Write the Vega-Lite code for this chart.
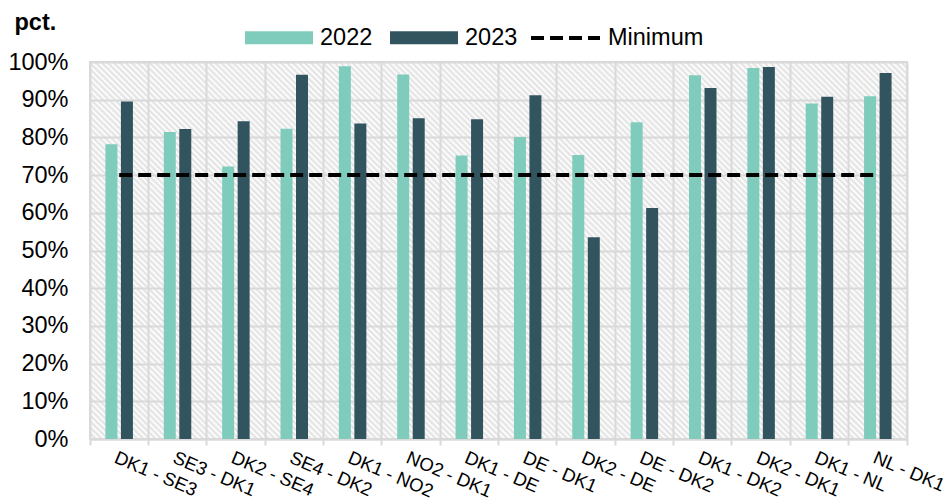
{
  "$schema": "https://vega.github.io/schema/vega-lite/v6.json",
  "width": 817,
  "height": 377,
  "autosize": {"type": "none"},
  "padding": {"left": 90, "top": 62, "right": 44, "bottom": 60},
  "background": "white",
  "config": {
    "font": "Liberation Sans",
    "view": {
      "stroke": "#d9d9d9",
      "strokeWidth": 2,
      "fill": {
        "gradient": "linear",
        "x1": 0, "y1": 1, "x2": 1.20489, "y2": 0.44402,
        "stops": [
{"offset":0,"color":"#e0e0e0"},{"offset":0.0025,"color":"#fff"},{"offset":0.005,"color":"#e0e0e0"},{"offset":0.0075,"color":"#fff"},{"offset":0.01,"color":"#e0e0e0"},{"offset":0.0125,"color":"#fff"},{"offset":0.015,"color":"#e0e0e0"},{"offset":0.0175,"color":"#fff"},{"offset":0.02,"color":"#e0e0e0"},{"offset":0.0225,"color":"#fff"},
{"offset":0.025,"color":"#e0e0e0"},{"offset":0.0275,"color":"#fff"},{"offset":0.03,"color":"#e0e0e0"},{"offset":0.0325,"color":"#fff"},{"offset":0.035,"color":"#e0e0e0"},{"offset":0.0375,"color":"#fff"},{"offset":0.04,"color":"#e0e0e0"},{"offset":0.0425,"color":"#fff"},{"offset":0.045,"color":"#e0e0e0"},{"offset":0.0475,"color":"#fff"},
{"offset":0.05,"color":"#e0e0e0"},{"offset":0.0525,"color":"#fff"},{"offset":0.055,"color":"#e0e0e0"},{"offset":0.0575,"color":"#fff"},{"offset":0.06,"color":"#e0e0e0"},{"offset":0.0625,"color":"#fff"},{"offset":0.065,"color":"#e0e0e0"},{"offset":0.0675,"color":"#fff"},{"offset":0.07,"color":"#e0e0e0"},{"offset":0.0725,"color":"#fff"},
{"offset":0.075,"color":"#e0e0e0"},{"offset":0.0775,"color":"#fff"},{"offset":0.08,"color":"#e0e0e0"},{"offset":0.0825,"color":"#fff"},{"offset":0.085,"color":"#e0e0e0"},{"offset":0.0875,"color":"#fff"},{"offset":0.09,"color":"#e0e0e0"},{"offset":0.0925,"color":"#fff"},{"offset":0.095,"color":"#e0e0e0"},{"offset":0.0975,"color":"#fff"},
{"offset":0.1,"color":"#e0e0e0"},{"offset":0.1025,"color":"#fff"},{"offset":0.105,"color":"#e0e0e0"},{"offset":0.1075,"color":"#fff"},{"offset":0.11,"color":"#e0e0e0"},{"offset":0.1125,"color":"#fff"},{"offset":0.115,"color":"#e0e0e0"},{"offset":0.1175,"color":"#fff"},{"offset":0.12,"color":"#e0e0e0"},{"offset":0.1225,"color":"#fff"},
{"offset":0.125,"color":"#e0e0e0"},{"offset":0.1275,"color":"#fff"},{"offset":0.13,"color":"#e0e0e0"},{"offset":0.1325,"color":"#fff"},{"offset":0.135,"color":"#e0e0e0"},{"offset":0.1375,"color":"#fff"},{"offset":0.14,"color":"#e0e0e0"},{"offset":0.1425,"color":"#fff"},{"offset":0.145,"color":"#e0e0e0"},{"offset":0.1475,"color":"#fff"},
{"offset":0.15,"color":"#e0e0e0"},{"offset":0.1525,"color":"#fff"},{"offset":0.155,"color":"#e0e0e0"},{"offset":0.1575,"color":"#fff"},{"offset":0.16,"color":"#e0e0e0"},{"offset":0.1625,"color":"#fff"},{"offset":0.165,"color":"#e0e0e0"},{"offset":0.1675,"color":"#fff"},{"offset":0.17,"color":"#e0e0e0"},{"offset":0.1725,"color":"#fff"},
{"offset":0.175,"color":"#e0e0e0"},{"offset":0.1775,"color":"#fff"},{"offset":0.18,"color":"#e0e0e0"},{"offset":0.1825,"color":"#fff"},{"offset":0.185,"color":"#e0e0e0"},{"offset":0.1875,"color":"#fff"},{"offset":0.19,"color":"#e0e0e0"},{"offset":0.1925,"color":"#fff"},{"offset":0.195,"color":"#e0e0e0"},{"offset":0.1975,"color":"#fff"},
{"offset":0.2,"color":"#e0e0e0"},{"offset":0.2025,"color":"#fff"},{"offset":0.205,"color":"#e0e0e0"},{"offset":0.2075,"color":"#fff"},{"offset":0.21,"color":"#e0e0e0"},{"offset":0.2125,"color":"#fff"},{"offset":0.215,"color":"#e0e0e0"},{"offset":0.2175,"color":"#fff"},{"offset":0.22,"color":"#e0e0e0"},{"offset":0.2225,"color":"#fff"},
{"offset":0.225,"color":"#e0e0e0"},{"offset":0.2275,"color":"#fff"},{"offset":0.23,"color":"#e0e0e0"},{"offset":0.2325,"color":"#fff"},{"offset":0.235,"color":"#e0e0e0"},{"offset":0.2375,"color":"#fff"},{"offset":0.24,"color":"#e0e0e0"},{"offset":0.2425,"color":"#fff"},{"offset":0.245,"color":"#e0e0e0"},{"offset":0.2475,"color":"#fff"},
{"offset":0.25,"color":"#e0e0e0"},{"offset":0.2525,"color":"#fff"},{"offset":0.255,"color":"#e0e0e0"},{"offset":0.2575,"color":"#fff"},{"offset":0.26,"color":"#e0e0e0"},{"offset":0.2625,"color":"#fff"},{"offset":0.265,"color":"#e0e0e0"},{"offset":0.2675,"color":"#fff"},{"offset":0.27,"color":"#e0e0e0"},{"offset":0.2725,"color":"#fff"},
{"offset":0.275,"color":"#e0e0e0"},{"offset":0.2775,"color":"#fff"},{"offset":0.28,"color":"#e0e0e0"},{"offset":0.2825,"color":"#fff"},{"offset":0.285,"color":"#e0e0e0"},{"offset":0.2875,"color":"#fff"},{"offset":0.29,"color":"#e0e0e0"},{"offset":0.2925,"color":"#fff"},{"offset":0.295,"color":"#e0e0e0"},{"offset":0.2975,"color":"#fff"},
{"offset":0.3,"color":"#e0e0e0"},{"offset":0.3025,"color":"#fff"},{"offset":0.305,"color":"#e0e0e0"},{"offset":0.3075,"color":"#fff"},{"offset":0.31,"color":"#e0e0e0"},{"offset":0.3125,"color":"#fff"},{"offset":0.315,"color":"#e0e0e0"},{"offset":0.3175,"color":"#fff"},{"offset":0.32,"color":"#e0e0e0"},{"offset":0.3225,"color":"#fff"},
{"offset":0.325,"color":"#e0e0e0"},{"offset":0.3275,"color":"#fff"},{"offset":0.33,"color":"#e0e0e0"},{"offset":0.3325,"color":"#fff"},{"offset":0.335,"color":"#e0e0e0"},{"offset":0.3375,"color":"#fff"},{"offset":0.34,"color":"#e0e0e0"},{"offset":0.3425,"color":"#fff"},{"offset":0.345,"color":"#e0e0e0"},{"offset":0.3475,"color":"#fff"},
{"offset":0.35,"color":"#e0e0e0"},{"offset":0.3525,"color":"#fff"},{"offset":0.355,"color":"#e0e0e0"},{"offset":0.3575,"color":"#fff"},{"offset":0.36,"color":"#e0e0e0"},{"offset":0.3625,"color":"#fff"},{"offset":0.365,"color":"#e0e0e0"},{"offset":0.3675,"color":"#fff"},{"offset":0.37,"color":"#e0e0e0"},{"offset":0.3725,"color":"#fff"},
{"offset":0.375,"color":"#e0e0e0"},{"offset":0.3775,"color":"#fff"},{"offset":0.38,"color":"#e0e0e0"},{"offset":0.3825,"color":"#fff"},{"offset":0.385,"color":"#e0e0e0"},{"offset":0.3875,"color":"#fff"},{"offset":0.39,"color":"#e0e0e0"},{"offset":0.3925,"color":"#fff"},{"offset":0.395,"color":"#e0e0e0"},{"offset":0.3975,"color":"#fff"},
{"offset":0.4,"color":"#e0e0e0"},{"offset":0.4025,"color":"#fff"},{"offset":0.405,"color":"#e0e0e0"},{"offset":0.4075,"color":"#fff"},{"offset":0.41,"color":"#e0e0e0"},{"offset":0.4125,"color":"#fff"},{"offset":0.415,"color":"#e0e0e0"},{"offset":0.4175,"color":"#fff"},{"offset":0.42,"color":"#e0e0e0"},{"offset":0.4225,"color":"#fff"},
{"offset":0.425,"color":"#e0e0e0"},{"offset":0.4275,"color":"#fff"},{"offset":0.43,"color":"#e0e0e0"},{"offset":0.4325,"color":"#fff"},{"offset":0.435,"color":"#e0e0e0"},{"offset":0.4375,"color":"#fff"},{"offset":0.44,"color":"#e0e0e0"},{"offset":0.4425,"color":"#fff"},{"offset":0.445,"color":"#e0e0e0"},{"offset":0.4475,"color":"#fff"},
{"offset":0.45,"color":"#e0e0e0"},{"offset":0.4525,"color":"#fff"},{"offset":0.455,"color":"#e0e0e0"},{"offset":0.4575,"color":"#fff"},{"offset":0.46,"color":"#e0e0e0"},{"offset":0.4625,"color":"#fff"},{"offset":0.465,"color":"#e0e0e0"},{"offset":0.4675,"color":"#fff"},{"offset":0.47,"color":"#e0e0e0"},{"offset":0.4725,"color":"#fff"},
{"offset":0.475,"color":"#e0e0e0"},{"offset":0.4775,"color":"#fff"},{"offset":0.48,"color":"#e0e0e0"},{"offset":0.4825,"color":"#fff"},{"offset":0.485,"color":"#e0e0e0"},{"offset":0.4875,"color":"#fff"},{"offset":0.49,"color":"#e0e0e0"},{"offset":0.4925,"color":"#fff"},{"offset":0.495,"color":"#e0e0e0"},{"offset":0.4975,"color":"#fff"},
{"offset":0.5,"color":"#e0e0e0"},{"offset":0.5025,"color":"#fff"},{"offset":0.505,"color":"#e0e0e0"},{"offset":0.5075,"color":"#fff"},{"offset":0.51,"color":"#e0e0e0"},{"offset":0.5125,"color":"#fff"},{"offset":0.515,"color":"#e0e0e0"},{"offset":0.5175,"color":"#fff"},{"offset":0.52,"color":"#e0e0e0"},{"offset":0.5225,"color":"#fff"},
{"offset":0.525,"color":"#e0e0e0"},{"offset":0.5275,"color":"#fff"},{"offset":0.53,"color":"#e0e0e0"},{"offset":0.5325,"color":"#fff"},{"offset":0.535,"color":"#e0e0e0"},{"offset":0.5375,"color":"#fff"},{"offset":0.54,"color":"#e0e0e0"},{"offset":0.5425,"color":"#fff"},{"offset":0.545,"color":"#e0e0e0"},{"offset":0.5475,"color":"#fff"},
{"offset":0.55,"color":"#e0e0e0"},{"offset":0.5525,"color":"#fff"},{"offset":0.555,"color":"#e0e0e0"},{"offset":0.5575,"color":"#fff"},{"offset":0.56,"color":"#e0e0e0"},{"offset":0.5625,"color":"#fff"},{"offset":0.565,"color":"#e0e0e0"},{"offset":0.5675,"color":"#fff"},{"offset":0.57,"color":"#e0e0e0"},{"offset":0.5725,"color":"#fff"},
{"offset":0.575,"color":"#e0e0e0"},{"offset":0.5775,"color":"#fff"},{"offset":0.58,"color":"#e0e0e0"},{"offset":0.5825,"color":"#fff"},{"offset":0.585,"color":"#e0e0e0"},{"offset":0.5875,"color":"#fff"},{"offset":0.59,"color":"#e0e0e0"},{"offset":0.5925,"color":"#fff"},{"offset":0.595,"color":"#e0e0e0"},{"offset":0.5975,"color":"#fff"},
{"offset":0.6,"color":"#e0e0e0"},{"offset":0.6025,"color":"#fff"},{"offset":0.605,"color":"#e0e0e0"},{"offset":0.6075,"color":"#fff"},{"offset":0.61,"color":"#e0e0e0"},{"offset":0.6125,"color":"#fff"},{"offset":0.615,"color":"#e0e0e0"},{"offset":0.6175,"color":"#fff"},{"offset":0.62,"color":"#e0e0e0"},{"offset":0.6225,"color":"#fff"},
{"offset":0.625,"color":"#e0e0e0"},{"offset":0.6275,"color":"#fff"},{"offset":0.63,"color":"#e0e0e0"},{"offset":0.6325,"color":"#fff"},{"offset":0.635,"color":"#e0e0e0"},{"offset":0.6375,"color":"#fff"},{"offset":0.64,"color":"#e0e0e0"},{"offset":0.6425,"color":"#fff"},{"offset":0.645,"color":"#e0e0e0"},{"offset":0.6475,"color":"#fff"},
{"offset":0.65,"color":"#e0e0e0"},{"offset":0.6525,"color":"#fff"},{"offset":0.655,"color":"#e0e0e0"},{"offset":0.6575,"color":"#fff"},{"offset":0.66,"color":"#e0e0e0"},{"offset":0.6625,"color":"#fff"},{"offset":0.665,"color":"#e0e0e0"},{"offset":0.6675,"color":"#fff"},{"offset":0.67,"color":"#e0e0e0"},{"offset":0.6725,"color":"#fff"},
{"offset":0.675,"color":"#e0e0e0"},{"offset":0.6775,"color":"#fff"},{"offset":0.68,"color":"#e0e0e0"},{"offset":0.6825,"color":"#fff"},{"offset":0.685,"color":"#e0e0e0"},{"offset":0.6875,"color":"#fff"},{"offset":0.69,"color":"#e0e0e0"},{"offset":0.6925,"color":"#fff"},{"offset":0.695,"color":"#e0e0e0"},{"offset":0.6975,"color":"#fff"},
{"offset":0.7,"color":"#e0e0e0"},{"offset":0.7025,"color":"#fff"},{"offset":0.705,"color":"#e0e0e0"},{"offset":0.7075,"color":"#fff"},{"offset":0.71,"color":"#e0e0e0"},{"offset":0.7125,"color":"#fff"},{"offset":0.715,"color":"#e0e0e0"},{"offset":0.7175,"color":"#fff"},{"offset":0.72,"color":"#e0e0e0"},{"offset":0.7225,"color":"#fff"},
{"offset":0.725,"color":"#e0e0e0"},{"offset":0.7275,"color":"#fff"},{"offset":0.73,"color":"#e0e0e0"},{"offset":0.7325,"color":"#fff"},{"offset":0.735,"color":"#e0e0e0"},{"offset":0.7375,"color":"#fff"},{"offset":0.74,"color":"#e0e0e0"},{"offset":0.7425,"color":"#fff"},{"offset":0.745,"color":"#e0e0e0"},{"offset":0.7475,"color":"#fff"},
{"offset":0.75,"color":"#e0e0e0"},{"offset":0.7525,"color":"#fff"},{"offset":0.755,"color":"#e0e0e0"},{"offset":0.7575,"color":"#fff"},{"offset":0.76,"color":"#e0e0e0"},{"offset":0.7625,"color":"#fff"},{"offset":0.765,"color":"#e0e0e0"},{"offset":0.7675,"color":"#fff"},{"offset":0.77,"color":"#e0e0e0"},{"offset":0.7725,"color":"#fff"},
{"offset":0.775,"color":"#e0e0e0"},{"offset":0.7775,"color":"#fff"},{"offset":0.78,"color":"#e0e0e0"},{"offset":0.7825,"color":"#fff"},{"offset":0.785,"color":"#e0e0e0"},{"offset":0.7875,"color":"#fff"},{"offset":0.79,"color":"#e0e0e0"},{"offset":0.7925,"color":"#fff"},{"offset":0.795,"color":"#e0e0e0"},{"offset":0.7975,"color":"#fff"},
{"offset":0.8,"color":"#e0e0e0"},{"offset":0.8025,"color":"#fff"},{"offset":0.805,"color":"#e0e0e0"},{"offset":0.8075,"color":"#fff"},{"offset":0.81,"color":"#e0e0e0"},{"offset":0.8125,"color":"#fff"},{"offset":0.815,"color":"#e0e0e0"},{"offset":0.8175,"color":"#fff"},{"offset":0.82,"color":"#e0e0e0"},{"offset":0.8225,"color":"#fff"},
{"offset":0.825,"color":"#e0e0e0"},{"offset":0.8275,"color":"#fff"},{"offset":0.83,"color":"#e0e0e0"},{"offset":0.8325,"color":"#fff"},{"offset":0.835,"color":"#e0e0e0"},{"offset":0.8375,"color":"#fff"},{"offset":0.84,"color":"#e0e0e0"},{"offset":0.8425,"color":"#fff"},{"offset":0.845,"color":"#e0e0e0"},{"offset":0.8475,"color":"#fff"},
{"offset":0.85,"color":"#e0e0e0"},{"offset":0.8525,"color":"#fff"},{"offset":0.855,"color":"#e0e0e0"},{"offset":0.8575,"color":"#fff"},{"offset":0.86,"color":"#e0e0e0"},{"offset":0.8625,"color":"#fff"},{"offset":0.865,"color":"#e0e0e0"},{"offset":0.8675,"color":"#fff"},{"offset":0.87,"color":"#e0e0e0"},{"offset":0.8725,"color":"#fff"},
{"offset":0.875,"color":"#e0e0e0"},{"offset":0.8775,"color":"#fff"},{"offset":0.88,"color":"#e0e0e0"},{"offset":0.8825,"color":"#fff"},{"offset":0.885,"color":"#e0e0e0"},{"offset":0.8875,"color":"#fff"},{"offset":0.89,"color":"#e0e0e0"},{"offset":0.8925,"color":"#fff"},{"offset":0.895,"color":"#e0e0e0"},{"offset":0.8975,"color":"#fff"},
{"offset":0.9,"color":"#e0e0e0"},{"offset":0.9025,"color":"#fff"},{"offset":0.905,"color":"#e0e0e0"},{"offset":0.9075,"color":"#fff"},{"offset":0.91,"color":"#e0e0e0"},{"offset":0.9125,"color":"#fff"},{"offset":0.915,"color":"#e0e0e0"},{"offset":0.9175,"color":"#fff"},{"offset":0.92,"color":"#e0e0e0"},{"offset":0.9225,"color":"#fff"},
{"offset":0.925,"color":"#e0e0e0"},{"offset":0.9275,"color":"#fff"},{"offset":0.93,"color":"#e0e0e0"},{"offset":0.9325,"color":"#fff"},{"offset":0.935,"color":"#e0e0e0"},{"offset":0.9375,"color":"#fff"},{"offset":0.94,"color":"#e0e0e0"},{"offset":0.9425,"color":"#fff"},{"offset":0.945,"color":"#e0e0e0"},{"offset":0.9475,"color":"#fff"},
{"offset":0.95,"color":"#e0e0e0"},{"offset":0.9525,"color":"#fff"},{"offset":0.955,"color":"#e0e0e0"},{"offset":0.9575,"color":"#fff"},{"offset":0.96,"color":"#e0e0e0"},{"offset":0.9625,"color":"#fff"},{"offset":0.965,"color":"#e0e0e0"},{"offset":0.9675,"color":"#fff"},{"offset":0.97,"color":"#e0e0e0"},{"offset":0.9725,"color":"#fff"},
{"offset":0.975,"color":"#e0e0e0"},{"offset":0.9775,"color":"#fff"},{"offset":0.98,"color":"#e0e0e0"},{"offset":0.9825,"color":"#fff"},{"offset":0.985,"color":"#e0e0e0"},{"offset":0.9875,"color":"#fff"},{"offset":0.99,"color":"#e0e0e0"},{"offset":0.9925,"color":"#fff"},{"offset":0.995,"color":"#e0e0e0"},{"offset":0.9975,"color":"#fff"},
{"offset":1,"color":"#e0e0e0"}
        ]
      }
    },
    "axisX": {
      "title": null,
      "labelAngle": 23,
      "labelAlign": "left",
      "labelBaseline": "top",
      "labelFontSize": 18.5,
      "labelColor": "#000000",
      "labelPadding": 3,
      "bandPosition": 1,
      "tickExtra": true,
      "tickSize": 6,
      "tickColor": "#d9d9d9",
      "tickWidth": 2,
      "grid": true,
      "gridColor": "#d9d9d9",
      "gridWidth": 2,
      "domainColor": "#d9d9d9",
      "domainWidth": 2
    },
    "axisY": {
      "titleAngle": 0,
      "titleAlign": "left",
      "titleBaseline": "alphabetic",
      "titleX": -76,
      "titleY": -33,
      "titleFontSize": 23.5,
      "titleFontWeight": "bold",
      "titleColor": "#000000",
      "tickCount": 11,
      "labelOverlap": false,
      "labelFontSize": 23.5,
      "labelColor": "#000000",
      "labelPadding": 22,
      "ticks": false,
      "domain": false,
      "grid": true,
      "gridColor": "#d9d9d9",
      "gridWidth": 2
    }
  },
  "datasets": {
    "flows": [
      {"route": "DK1 - SE3", "series": "2022", "value": 78.2},
      {"route": "DK1 - SE3", "series": "2023", "value": 89.5},
      {"route": "SE3 - DK1", "series": "2022", "value": 81.4},
      {"route": "SE3 - DK1", "series": "2023", "value": 82.2},
      {"route": "DK2 - SE4", "series": "2022", "value": 72.3},
      {"route": "DK2 - SE4", "series": "2023", "value": 84.3},
      {"route": "SE4 - DK2", "series": "2022", "value": 82.3},
      {"route": "SE4 - DK2", "series": "2023", "value": 96.6},
      {"route": "DK1 - NO2", "series": "2022", "value": 98.9},
      {"route": "DK1 - NO2", "series": "2023", "value": 83.7},
      {"route": "NO2 - DK1", "series": "2022", "value": 96.7},
      {"route": "NO2 - DK1", "series": "2023", "value": 85.1},
      {"route": "DK1 - DE", "series": "2022", "value": 75.2},
      {"route": "DK1 - DE", "series": "2023", "value": 84.8},
      {"route": "DE - DK1", "series": "2022", "value": 80.1},
      {"route": "DE - DK1", "series": "2023", "value": 91.2},
      {"route": "DK2 - DE", "series": "2022", "value": 75.3},
      {"route": "DK2 - DE", "series": "2023", "value": 53.5},
      {"route": "DE - DK2", "series": "2022", "value": 84.0},
      {"route": "DE - DK2", "series": "2023", "value": 61.3},
      {"route": "DK1 - DK2", "series": "2022", "value": 96.5},
      {"route": "DK1 - DK2", "series": "2023", "value": 93.1},
      {"route": "DK2 - DK1", "series": "2022", "value": 98.4},
      {"route": "DK2 - DK1", "series": "2023", "value": 98.7},
      {"route": "DK1 - NL", "series": "2022", "value": 89.0},
      {"route": "DK1 - NL", "series": "2023", "value": 90.8},
      {"route": "NL - DK1", "series": "2022", "value": 90.9},
      {"route": "NL - DK1", "series": "2023", "value": 97.1}
    ],
    "minimum": [
      {"route": "DK1 - SE3", "series": "Minimum", "value": 70},
      {"route": "SE3 - DK1", "series": "Minimum", "value": 70},
      {"route": "DK2 - SE4", "series": "Minimum", "value": 70},
      {"route": "SE4 - DK2", "series": "Minimum", "value": 70},
      {"route": "DK1 - NO2", "series": "Minimum", "value": 70},
      {"route": "NO2 - DK1", "series": "Minimum", "value": 70},
      {"route": "DK1 - DE", "series": "Minimum", "value": 70},
      {"route": "DE - DK1", "series": "Minimum", "value": 70},
      {"route": "DK2 - DE", "series": "Minimum", "value": 70},
      {"route": "DE - DK2", "series": "Minimum", "value": 70},
      {"route": "DK1 - DK2", "series": "Minimum", "value": 70},
      {"route": "DK2 - DK1", "series": "Minimum", "value": 70},
      {"route": "DK1 - NL", "series": "Minimum", "value": 70},
      {"route": "NL - DK1", "series": "Minimum", "value": 70}
    ]
  },
  "layer": [
    {
      "data": {"name": "flows"},
      "mark": {"type": "bar"},
      "encoding": {
        "x": {
          "field": "route",
          "type": "nominal",
          "scale": {
            "domain": ["DK1 - SE3", "SE3 - DK1", "DK2 - SE4", "SE4 - DK2", "DK1 - NO2", "NO2 - DK1", "DK1 - DE", "DE - DK1", "DK2 - DE", "DE - DK2", "DK1 - DK2", "DK2 - DK1", "DK1 - NL", "NL - DK1"],
            "paddingInner": 0,
            "paddingOuter": 0
          },
          "axis": {"title": null}
        },
        "xOffset": {
          "field": "series",
          "type": "nominal",
          "scale": {"domain": ["2022", "2023"], "paddingInner": 0.226, "paddingOuter": 0.996}
        },
        "y": {
          "field": "value",
          "type": "quantitative",
          "scale": {"domain": [0, 100], "nice": false},
          "axis": {
            "title": "pct.",
            "values": [0, 10, 20, 30, 40, 50, 60, 70, 80, 90, 100],
            "labelExpr": "datum.value + '%'"
          }
        },
        "color": {
          "field": "series",
          "type": "nominal",
          "scale": {
            "domain": ["2022", "2023"],
            "range": ["#7fccbd", "#31545f"]
          },
          "legend": {
            "title": null,
            "orient": "none",
            "legendX": 155,
            "legendY": -58.5,
            "direction": "horizontal",
            "padding": 0,
            "symbolType": "M-1,-0.19H1V0.19H-1Z",
            "symbolSize": 4624,
            "symbolStrokeWidth": 0,
            "labelFontSize": 23.5,
            "labelColor": "#000000",
            "labelOffset": 7,
            "columnPadding": 17
          }
        }
      }
    },
    {
      "data": {"name": "minimum"},
      "mark": {"type": "line", "strokeWidth": 4, "color": "#000000"},
      "encoding": {
        "x": {"field": "route", "type": "nominal", "axis": {"title": null}},
        "y": {
          "field": "value",
          "type": "quantitative",
          "axis": {
            "title": "pct.",
            "values": [0, 10, 20, 30, 40, 50, 60, 70, 80, 90, 100],
            "labelExpr": "datum.value + '%'"
          }
        },
        "strokeDash": {
          "field": "series",
          "type": "nominal",
          "scale": {"domain": ["Minimum"], "range": [[13, 6]]},
          "legend": {
            "title": null,
            "orient": "none",
            "legendX": 439,
            "legendY": -60.5,
            "direction": "horizontal",
            "padding": 0,
            "symbolType": "stroke",
            "symbolSize": 4761,
            "symbolStrokeWidth": 4,
            "symbolStrokeColor": "#000000",
            "labelFontSize": 23.5,
            "labelColor": "#000000",
            "labelOffset": 6
          }
        }
      }
    }
  ]
}
